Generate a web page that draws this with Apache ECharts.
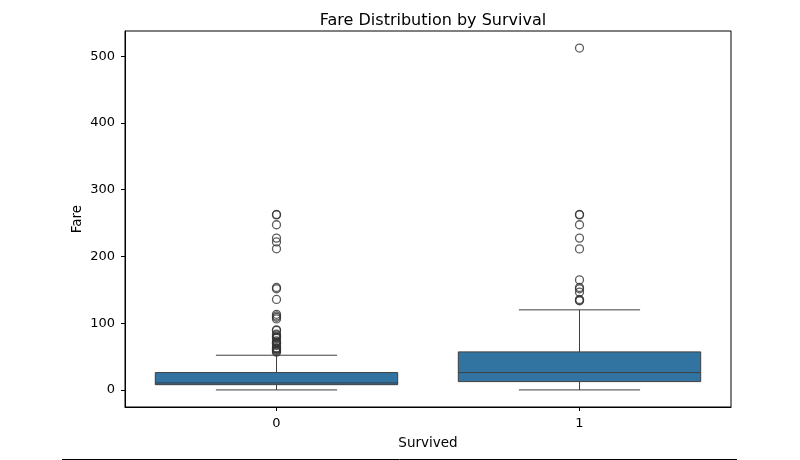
<!DOCTYPE html>
<html>
<head>
<meta charset="utf-8">
<script src="https://cdn.jsdelivr.net/npm/echarts@6/dist/echarts.min.js"></script>
<style>html,body{margin:0;padding:0;background:#fff}#c{width:800px;height:460px}</style>
</head>
<body>
<div id="c"></div>
<script>
var categories = ['0', '1'];
// [min whisker, Q1, median, Q3, max whisker]
var boxDied = [0, 7.8542, 10.5, 26.0, 52.0];
var boxSurvived = [0, 12.475, 26.0, 57.0, 120.0];
var outliersDied = [56.4958, 57.9792, 59.4, 61.175, 61.3792, 61.9792, 63.3583, 66.6, 69.3, 69.55, 71.0, 71.2833, 73.5, 77.2875, 79.2, 79.65, 82.1708, 83.475, 89.1042, 90.0, 106.425, 108.9, 110.8833, 113.275, 135.6333, 151.55, 153.4625, 211.5, 221.7792, 227.525, 247.5208, 262.375, 263.0];
var outliersSurvived = [133.65, 134.5, 135.6333, 146.5208, 151.55, 153.4625, 164.8667, 211.3375, 227.525, 247.5208, 262.375, 263.0, 512.3292];
var yTicks = [0, 100, 200, 300, 400, 500];

var boxes = [[0].concat(boxDied), [1].concat(boxSurvived)];
var outlierPts = outliersDied.map(function (v) { return [0, v]; })
  .concat(outliersSurvived.map(function (v) { return [1, v]; }));

var lineColor = '#3f3f3f';
var font = 'DejaVu Sans';
var chart = echarts.init(document.getElementById('c'));
chart.setOption({
  animation: false,
  backgroundColor: '#fff',
  title: {
    text: 'Fare Distribution by Survival',
    left: 428, top: 8, textAlign: 'center',
    textStyle: { fontFamily: font, fontSize: 16, fontWeight: 'normal', color: '#000' }
  },
  grid: { left: 125, right: 69, top: 31, bottom: 53, show: true, borderColor: '#000', borderWidth: 1, backgroundColor: 'transparent' },
  xAxis: {
    type: 'category', data: categories, boundaryGap: true,
    name: 'Survived', nameLocation: 'middle', nameGap: 29, nameMoveOverlap: false,
    nameTextStyle: { fontFamily: font, fontSize: 13.5, color: '#000' },
    axisLine: { show: true, onZero: false, lineStyle: { color: '#000', width: 1 } },
    axisTick: { show: true, alignWithLabel: true, length: 4, lineStyle: { color: '#000' } },
    axisLabel: { fontFamily: font, fontSize: 13, color: '#000', margin: 10 },
    splitLine: { show: false }
  },
  yAxis: {
    type: 'value', min: -25.6, max: 537.9,
    name: 'Fare', nameLocation: 'middle', nameGap: 41, nameMoveOverlap: false,
    nameTextStyle: { fontFamily: font, fontSize: 13.5, color: '#000' },
    axisLine: { show: true, onZero: false, lineStyle: { color: '#000', width: 1 } },
    axisTick: { show: true, length: 4, customValues: yTicks, lineStyle: { color: '#000' } },
    axisLabel: { fontFamily: font, fontSize: 13, color: '#000', margin: 10, customValues: yTicks },
    splitLine: { show: false }
  },
  series: [
    {
      type: 'custom',
      data: boxes,
      encode: { x: 0, y: [1, 2, 3, 4, 5] },
      renderItem: function (params, api) {
        var c = api.value(0);
        var band = api.size([1, 0])[0];
        var bw = band * 0.8, cw = band * 0.4;
        var pMin = api.coord([c, api.value(1)]);
        var pQ1 = api.coord([c, api.value(2)]);
        var pMed = api.coord([c, api.value(3)]);
        var pQ3 = api.coord([c, api.value(4)]);
        var pMax = api.coord([c, api.value(5)]);
        var x = pMin[0];
        var ls = { stroke: lineColor, lineWidth: 1 };
        return {
          type: 'group',
          children: [
            { type: 'line', shape: { x1: x, y1: pQ1[1], x2: x, y2: pMin[1] }, style: ls },
            { type: 'line', shape: { x1: x, y1: pQ3[1], x2: x, y2: pMax[1] }, style: ls },
            { type: 'line', shape: { x1: x - cw / 2, y1: pMin[1], x2: x + cw / 2, y2: pMin[1] }, style: ls },
            { type: 'line', shape: { x1: x - cw / 2, y1: pMax[1], x2: x + cw / 2, y2: pMax[1] }, style: ls },
            { type: 'rect', shape: { x: x - bw / 2, y: pQ3[1], width: bw, height: pQ1[1] - pQ3[1] },
              style: { fill: '#3274a1', stroke: lineColor, lineWidth: 1 } },
            { type: 'line', shape: { x1: x - bw / 2, y1: pMed[1], x2: x + bw / 2, y2: pMed[1] }, style: ls }
          ]
        };
      }
    },
    {
      type: 'scatter',
      data: outlierPts,
      symbol: 'circle',
      symbolSize: 8,
      itemStyle: { color: 'rgba(0,0,0,0)', borderColor: '#333', borderWidth: 1.3 }
    }
  ],
  graphic: [
    { type: 'line', shape: { x1: 62, y1: 459.5, x2: 737, y2: 459.5 }, style: { stroke: '#000', lineWidth: 1 } }
  ]
});
</script>
</body>
</html>
